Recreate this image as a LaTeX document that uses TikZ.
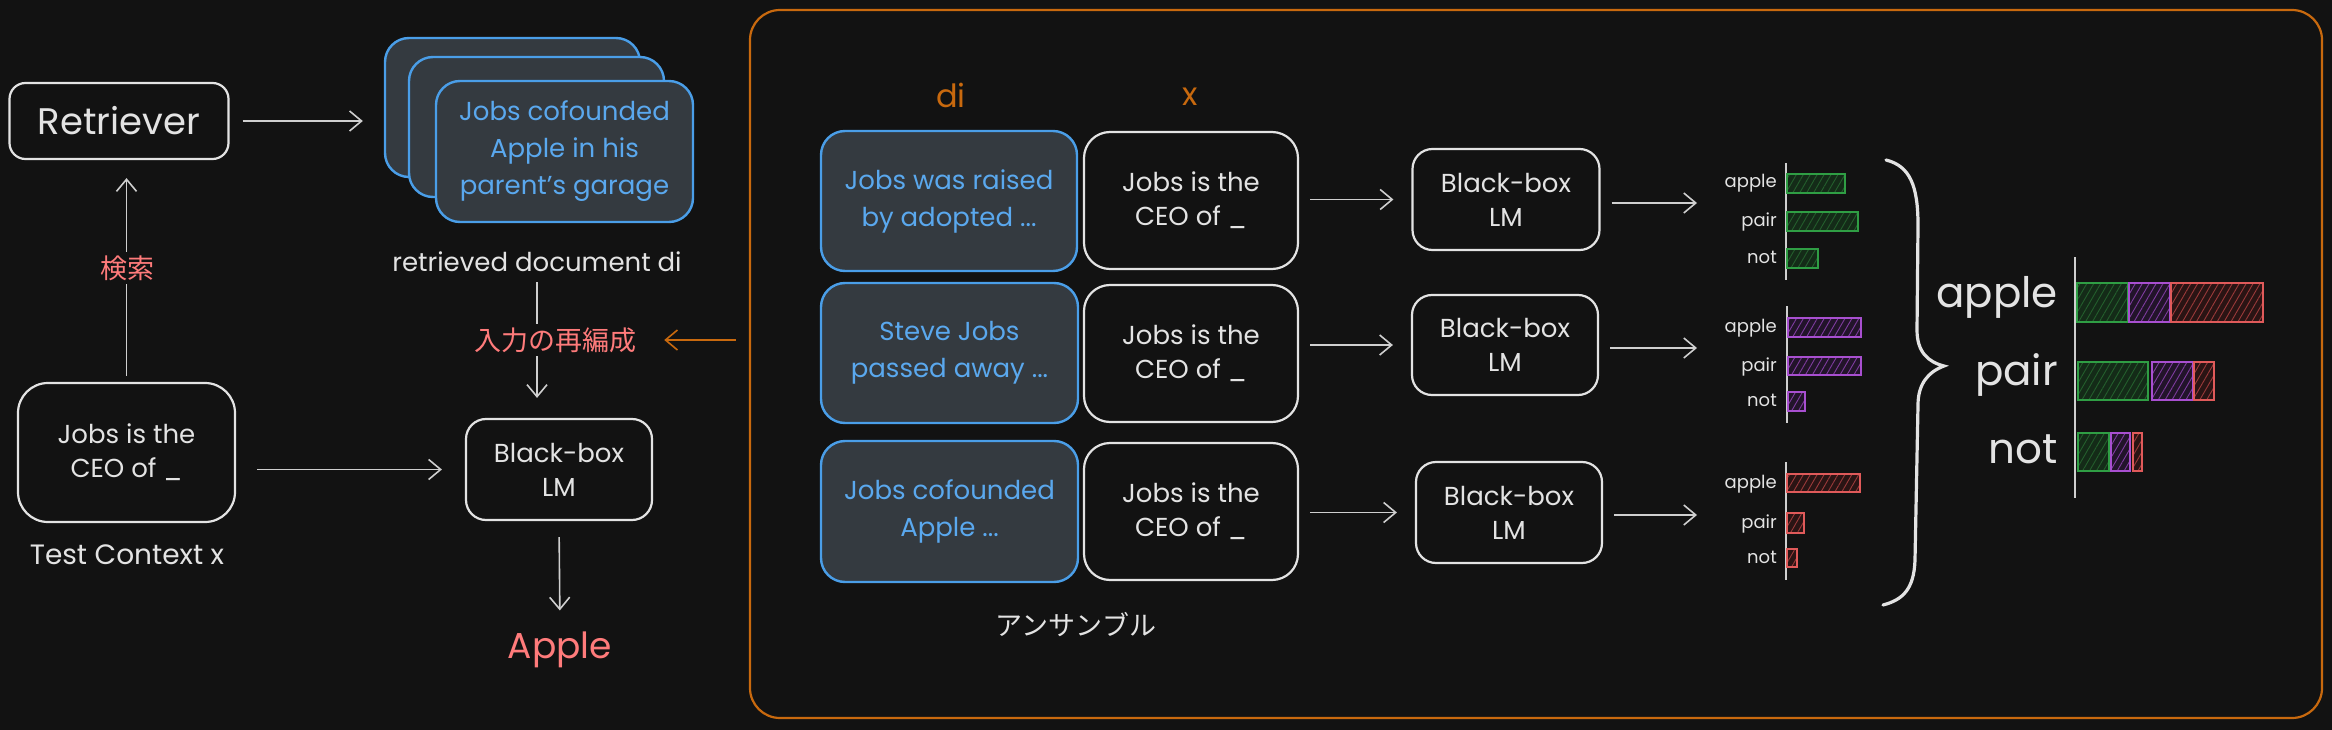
\documentclass[tikz,border=0pt]{standalone}
\usepackage{fontspec}
\setmainfont{Poppins}
\newfontfamily\jp{Noto Sans CJK JP}
\usetikzlibrary{arrows.meta,patterns.meta}
\definecolor{bg}{HTML}{121212}
\definecolor{fg}{HTML}{E3E3E3}
\definecolor{arrc}{HTML}{CFCFCF}
\definecolor{blueS}{HTML}{4A9EE8}
\definecolor{blueT}{HTML}{5AA8EE}
\definecolor{cardF}{HTML}{343A40}
\definecolor{orangeC}{HTML}{C8690E}
\definecolor{redT}{HTML}{FF7B7B}
\definecolor{grnS}{HTML}{2F9E44}
\definecolor{grnF}{HTML}{142B18}
\definecolor{grnH}{HTML}{245E2D}
\definecolor{purS}{HTML}{A84FD0}
\definecolor{purF}{HTML}{22142A}
\definecolor{purH}{HTML}{7E3C9E}
\definecolor{redS}{HTML}{E05A5A}
\definecolor{redF}{HTML}{2A1414}
\definecolor{redH}{HTML}{9A3A3A}
\newcommand{\mybar}[5]{%
  \fill[#1F] (#2,#3) rectangle (#4,#5);
  \path[pattern={Lines[angle=60,distance=6pt,line width=0.9pt]}, pattern color=#1H] (#2,#3) rectangle (#4,#5);
  \draw[#1S, line width=1.8pt] (#2,#3) rectangle (#4,#5);}
\tikzset{
  txt/.style={text=fg, font=\fontsize{26}{34}\selectfont, align=center, inner sep=2pt},
  box/.style={draw=fg, line width=2.2pt, rounded corners=22pt, fill=bg, text=fg, align=center,
    font=\fontsize{26}{34}\selectfont, inner sep=0pt},
  card/.style={draw=blueS, line width=2.4pt, rounded corners=24pt, fill=cardF, text=blueT, align=center,
    font=\fontsize{26}{37}\selectfont, inner sep=0pt},
  arr/.style={draw=arrc, line width=1.6pt, -{Straight Barb[length=12pt,width=20pt,line width=1.6pt]}},
  jplbl/.style={text=redT, font=\jp\fontsize{27}{30}\selectfont, fill=bg, inner sep=3pt},
  axis/.style={draw=arrc, line width=1.8pt},
  small/.style={text=fg, font=\fontsize{18}{20}\selectfont, anchor=base east, inner sep=0pt},
  big/.style={text=fg, font=\fontsize{42}{46}\selectfont, anchor=base east, inner sep=0pt},
}
\begin{document}
\begin{tikzpicture}[x=1pt,y=-1pt]
\fill[bg] (0,0) rectangle (2332,730);
\useasboundingbox (0,0) rectangle (2332,730);

% ---------- left part ----------
\node[box, rounded corners=16pt, minimum width=219pt, minimum height=76pt,
  font=\fontsize{37}{40}\selectfont] (ret) at (119,121) {Retriever};
\node[card, minimum width=255pt, minimum height=139pt] (back) at (512.5,107.5) {};
\node[card, minimum width=255pt, minimum height=140pt] (mid) at (536.5,127) {};
\node[card, minimum width=257pt, minimum height=141pt] (front) at (564.5,151.5)
  {Jobs cofounded\\Apple in his\\parent's garage};
\node[txt] (doclbl) at (537,262) {retrieved document di};
\node[box, rounded corners=30pt, minimum width=217pt, minimum height=139pt] (test) at (126.5,452.5)
  {Jobs is the\\CEO of \_};
\node[txt, font=\fontsize{28}{32}\selectfont] (testlbl) at (127,555) {Test Context x};
\node[box, rounded corners=20pt, minimum width=186pt, minimum height=101pt] (lm) at (559,469.5)
  {Black-box\\LM};
\node[text=redT, font=\fontsize{36}{40}\selectfont] (apple) at (560,650) {Apple};

\draw[arr, shorten <=13pt, shorten >=21pt] (ret.east) -- (ret.east -| back.west);
\draw[arr, shorten <=6pt, shorten >=18pt] (test.north) -- (test.north |- ret.south);
\node[jplbl] (kensaku) at (127,268) {検索};
\draw[arr, shorten <=8pt, shorten >=20pt] (doclbl.south) -- (doclbl.south |- lm.north);
\node[jplbl] (reorg) at (555,340) {入力の再編成};
\draw[arr, shorten <=21pt, shorten >=23pt] (test.east |- lm.west) -- (lm.west);
\draw[arr, shorten <=16pt, shorten >=18pt] (lm.south) -- (apple.north);

% ---------- ensemble frame ----------
\node[draw=orangeC, line width=2.2pt, rounded corners=30pt, minimum width=1572pt, minimum height=708pt,
  inner sep=0pt] (frame) at (1536,364) {};
\draw[arr, draw=orangeC, shorten <=13pt, shorten >=25pt] (reorg.east -| frame.west) -- (reorg.east);

\node[text=orangeC, font=\fontsize{32}{34}\selectfont] (dilbl) at (951,95) {di};
\node[text=orangeC, font=\fontsize{32}{34}\selectfont] (xlbl) at (1190,97) {x};

\node[card, minimum width=256pt, minimum height=140pt] (d1) at (949,201) {Jobs was raised\\by adopted ...};
\node[card, minimum width=257pt, minimum height=140pt] (d2) at (949.5,353) {Steve Jobs\\passed away ...};
\node[card, minimum width=257pt, minimum height=141pt] (d3) at (949.5,511.5) {Jobs cofounded\\Apple ...};
\foreach \i/\yx in {1/200.5,2/353.5,3/511.5}{
  \node[box, rounded corners=26pt, minimum width=214pt, minimum height=137pt] (x\i) at (1191,\yx)
    {Jobs is the\\CEO of \_};
}
\node[box, rounded corners=20pt, minimum width=187pt, minimum height=101pt] (m1) at (1506,199.5) {Black-box\\LM};
\node[box, rounded corners=20pt, minimum width=186pt, minimum height=100pt] (m2) at (1505,345) {Black-box\\LM};
\node[box, rounded corners=20pt, minimum width=186pt, minimum height=101pt] (m3) at (1509,512.5) {Black-box\\LM};
\foreach \i/\ya in {1/203,2/348,3/515}{
  \draw[arr, shorten <=11pt, shorten >=18pt] (x\i.east |- m\i.west) -- (m\i.west);
  \coordinate (o\i) at (1697,\ya);
  \draw[arr, shorten <=11pt] (m\i.east |- o\i) -- (o\i);
}
\node[text=fg, font=\jp\fontsize{27}{30}\selectfont] (ens) at (1076,625) {アンサンブル};

% ---------- small charts ----------
\draw[axis] (1786,163) -- (1786,280);
\draw[axis] (1787,306) -- (1787,423);
\draw[axis] (1786,462) -- (1786,580);
\mybar{grn}{1787}{174}{1845}{193}
\mybar{grn}{1787}{212}{1858}{231}
\mybar{grn}{1787}{249}{1818}{268}
\mybar{pur}{1788}{318}{1861}{337}
\mybar{pur}{1788}{357}{1861}{375}
\mybar{pur}{1788}{392}{1805}{411}
\mybar{red}{1787}{474}{1860}{492}
\mybar{red}{1787}{513}{1804}{533}
\mybar{red}{1787}{549}{1797}{567}
\foreach \yb/\t in {188/apple,226/pair,263/not,332/apple,371/pair,406/not,488/apple,528/pair,563/not}{
  \node[small] (s\yb) at (1777,\yb) {\t};
}

% ---------- brace ----------
\draw[fg, line width=3.2pt, line cap=round]
  (1886,160) .. controls (1910,166) and (1918,186) .. (1918,225)
  -- (1917,330) .. controls (1917,352) and (1928,362) .. (1944,366)
  .. controls (1928,372) and (1918,384) .. (1918,405)
  -- (1915,560) .. controls (1914,590) and (1902,600) .. (1883,605);

% ---------- big chart ----------
\draw[axis] (2075,257) -- (2075,498);
\mybar{grn}{2077}{283}{2128}{322}
\mybar{pur}{2129}{283}{2170}{322}
\mybar{red}{2171}{283}{2263}{322}
\mybar{grn}{2078}{362}{2148}{400}
\mybar{pur}{2152}{362}{2193}{400}
\mybar{red}{2194}{362}{2214}{400}
\mybar{grn}{2078}{433}{2109}{471}
\mybar{pur}{2111}{433}{2130}{471}
\mybar{red}{2133}{433}{2142}{471}
\node[big] (bapple) at (2058,307) {apple};
\node[big] (bpair) at (2058,385) {pair};
\node[big] (bnot) at (2058,463) {not};
\end{tikzpicture}
\end{document}
